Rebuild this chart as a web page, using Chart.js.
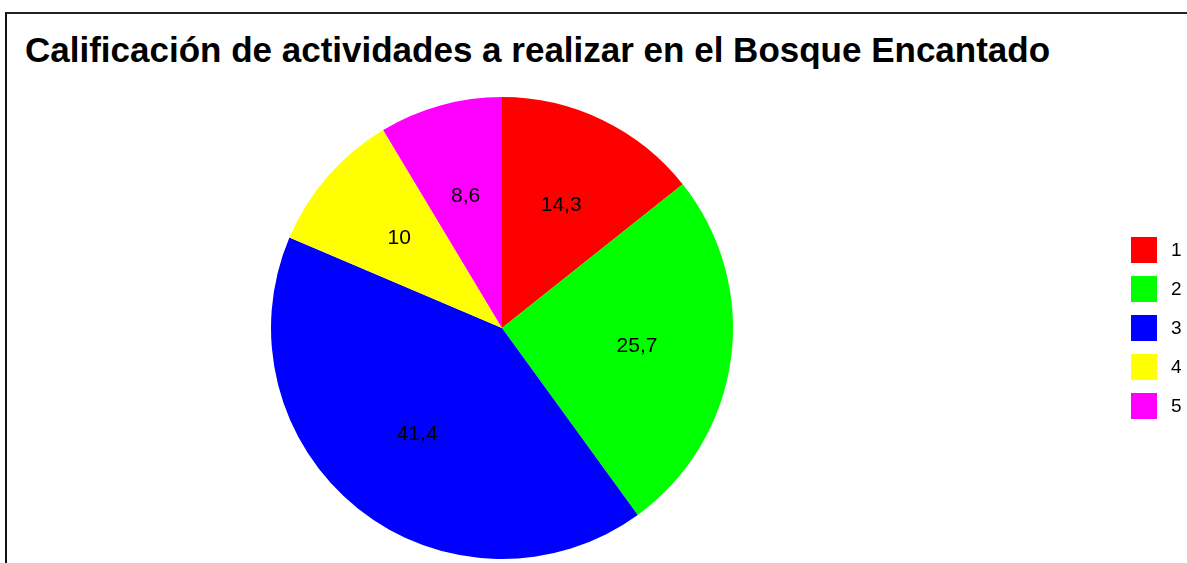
<!DOCTYPE html>
<html>
<head>
<meta charset="utf-8">
<script src="https://cdn.jsdelivr.net/npm/chart.js@4.4.1/dist/chart.umd.min.js"></script>
<style>
  html, body { margin: 0; padding: 0; background: #ffffff; }
  body { width: 1187px; height: 563px; position: relative; overflow: hidden; font-family: "Liberation Sans", Arial, sans-serif; }
  #frame { position: absolute; left: 5px; top: 12px; width: 1200px; height: 600px; border-left: 2px solid #111; border-top: 2px solid #222; box-sizing: border-box; }
  #title { position: absolute; left: 25px; top: 30px; font-size: 35px; font-weight: bold; color: #000; white-space: nowrap; line-height: 40px; }
  #wrap { position: absolute; left: 0; top: 0; width: 1187px; height: 563px; }
</style>
</head>
<body>
<div id="frame"></div>
<div id="title">Calificación de actividades a realizar en el Bosque Encantado</div>
<div id="wrap"><canvas id="c" width="1187" height="563"></canvas></div>
<script>
const categories = ["1", "2", "3", "4", "5"];
const values = [14.3, 25.7, 41.4, 10, 8.6];
const valueLabels = ["14,3", "25,7", "41,4", "10", "8,6"];
const colors = ["#FF0000", "#00FF00", "#0000FF", "#FFFF00", "#FF00FF"];

const sliceLabels = {
  id: 'sliceLabels',
  afterDatasetsDraw(chart) {
    const ctx = chart.ctx;
    const meta = chart.getDatasetMeta(0);
    ctx.save();
    ctx.font = '21px "Liberation Sans", Arial, sans-serif';
    ctx.fillStyle = '#000';
    ctx.textAlign = 'center';
    ctx.textBaseline = 'middle';
    meta.data.forEach((arc, i) => {
      const p = arc.getProps(['x', 'y', 'startAngle', 'endAngle', 'outerRadius'], true);
      const mid = (p.startAngle + p.endAngle) / 2;
      const r = p.outerRadius * 0.59;
      ctx.fillText(valueLabels[i], p.x + Math.cos(mid) * r, p.y + Math.sin(mid) * r);
    });
    ctx.restore();
  }
};

const sideLegend = {
  id: 'sideLegend',
  afterDraw(chart) {
    const ctx = chart.ctx;
    const ds = chart.data.datasets[0];
    const box = 26, step = 39;
    const x0 = 1131;
    const cy = (chart.chartArea.top + chart.chartArea.bottom) / 2;
    const n = chart.data.labels.length;
    const yStart = cy - (n - 1) * step / 2;
    ctx.save();
    ctx.font = '19px "Liberation Sans", Arial, sans-serif';
    ctx.textBaseline = 'middle';
    ctx.textAlign = 'left';
    chart.data.labels.forEach((lab, i) => {
      const y = yStart + i * step;
      ctx.fillStyle = ds.backgroundColor[i];
      ctx.fillRect(x0, y - box / 2, box, box);
      ctx.fillStyle = '#000';
      ctx.fillText(lab, x0 + 40, y + 1);
    });
    ctx.restore();
  }
};

new Chart(document.getElementById('c'), {
  type: 'pie',
  data: {
    labels: categories,
    datasets: [{
      data: values,
      backgroundColor: colors,
      borderWidth: 0
    }]
  },
  options: {
    responsive: false,
    animation: false,
    layout: { padding: { left: 271, right: 454, top: 97, bottom: 4 } },
    plugins: {
      legend: { display: false },
      title: { display: false },
      tooltip: { enabled: false }
    }
  },
  plugins: [sliceLabels, sideLegend]
});
</script>
</body>
</html>
